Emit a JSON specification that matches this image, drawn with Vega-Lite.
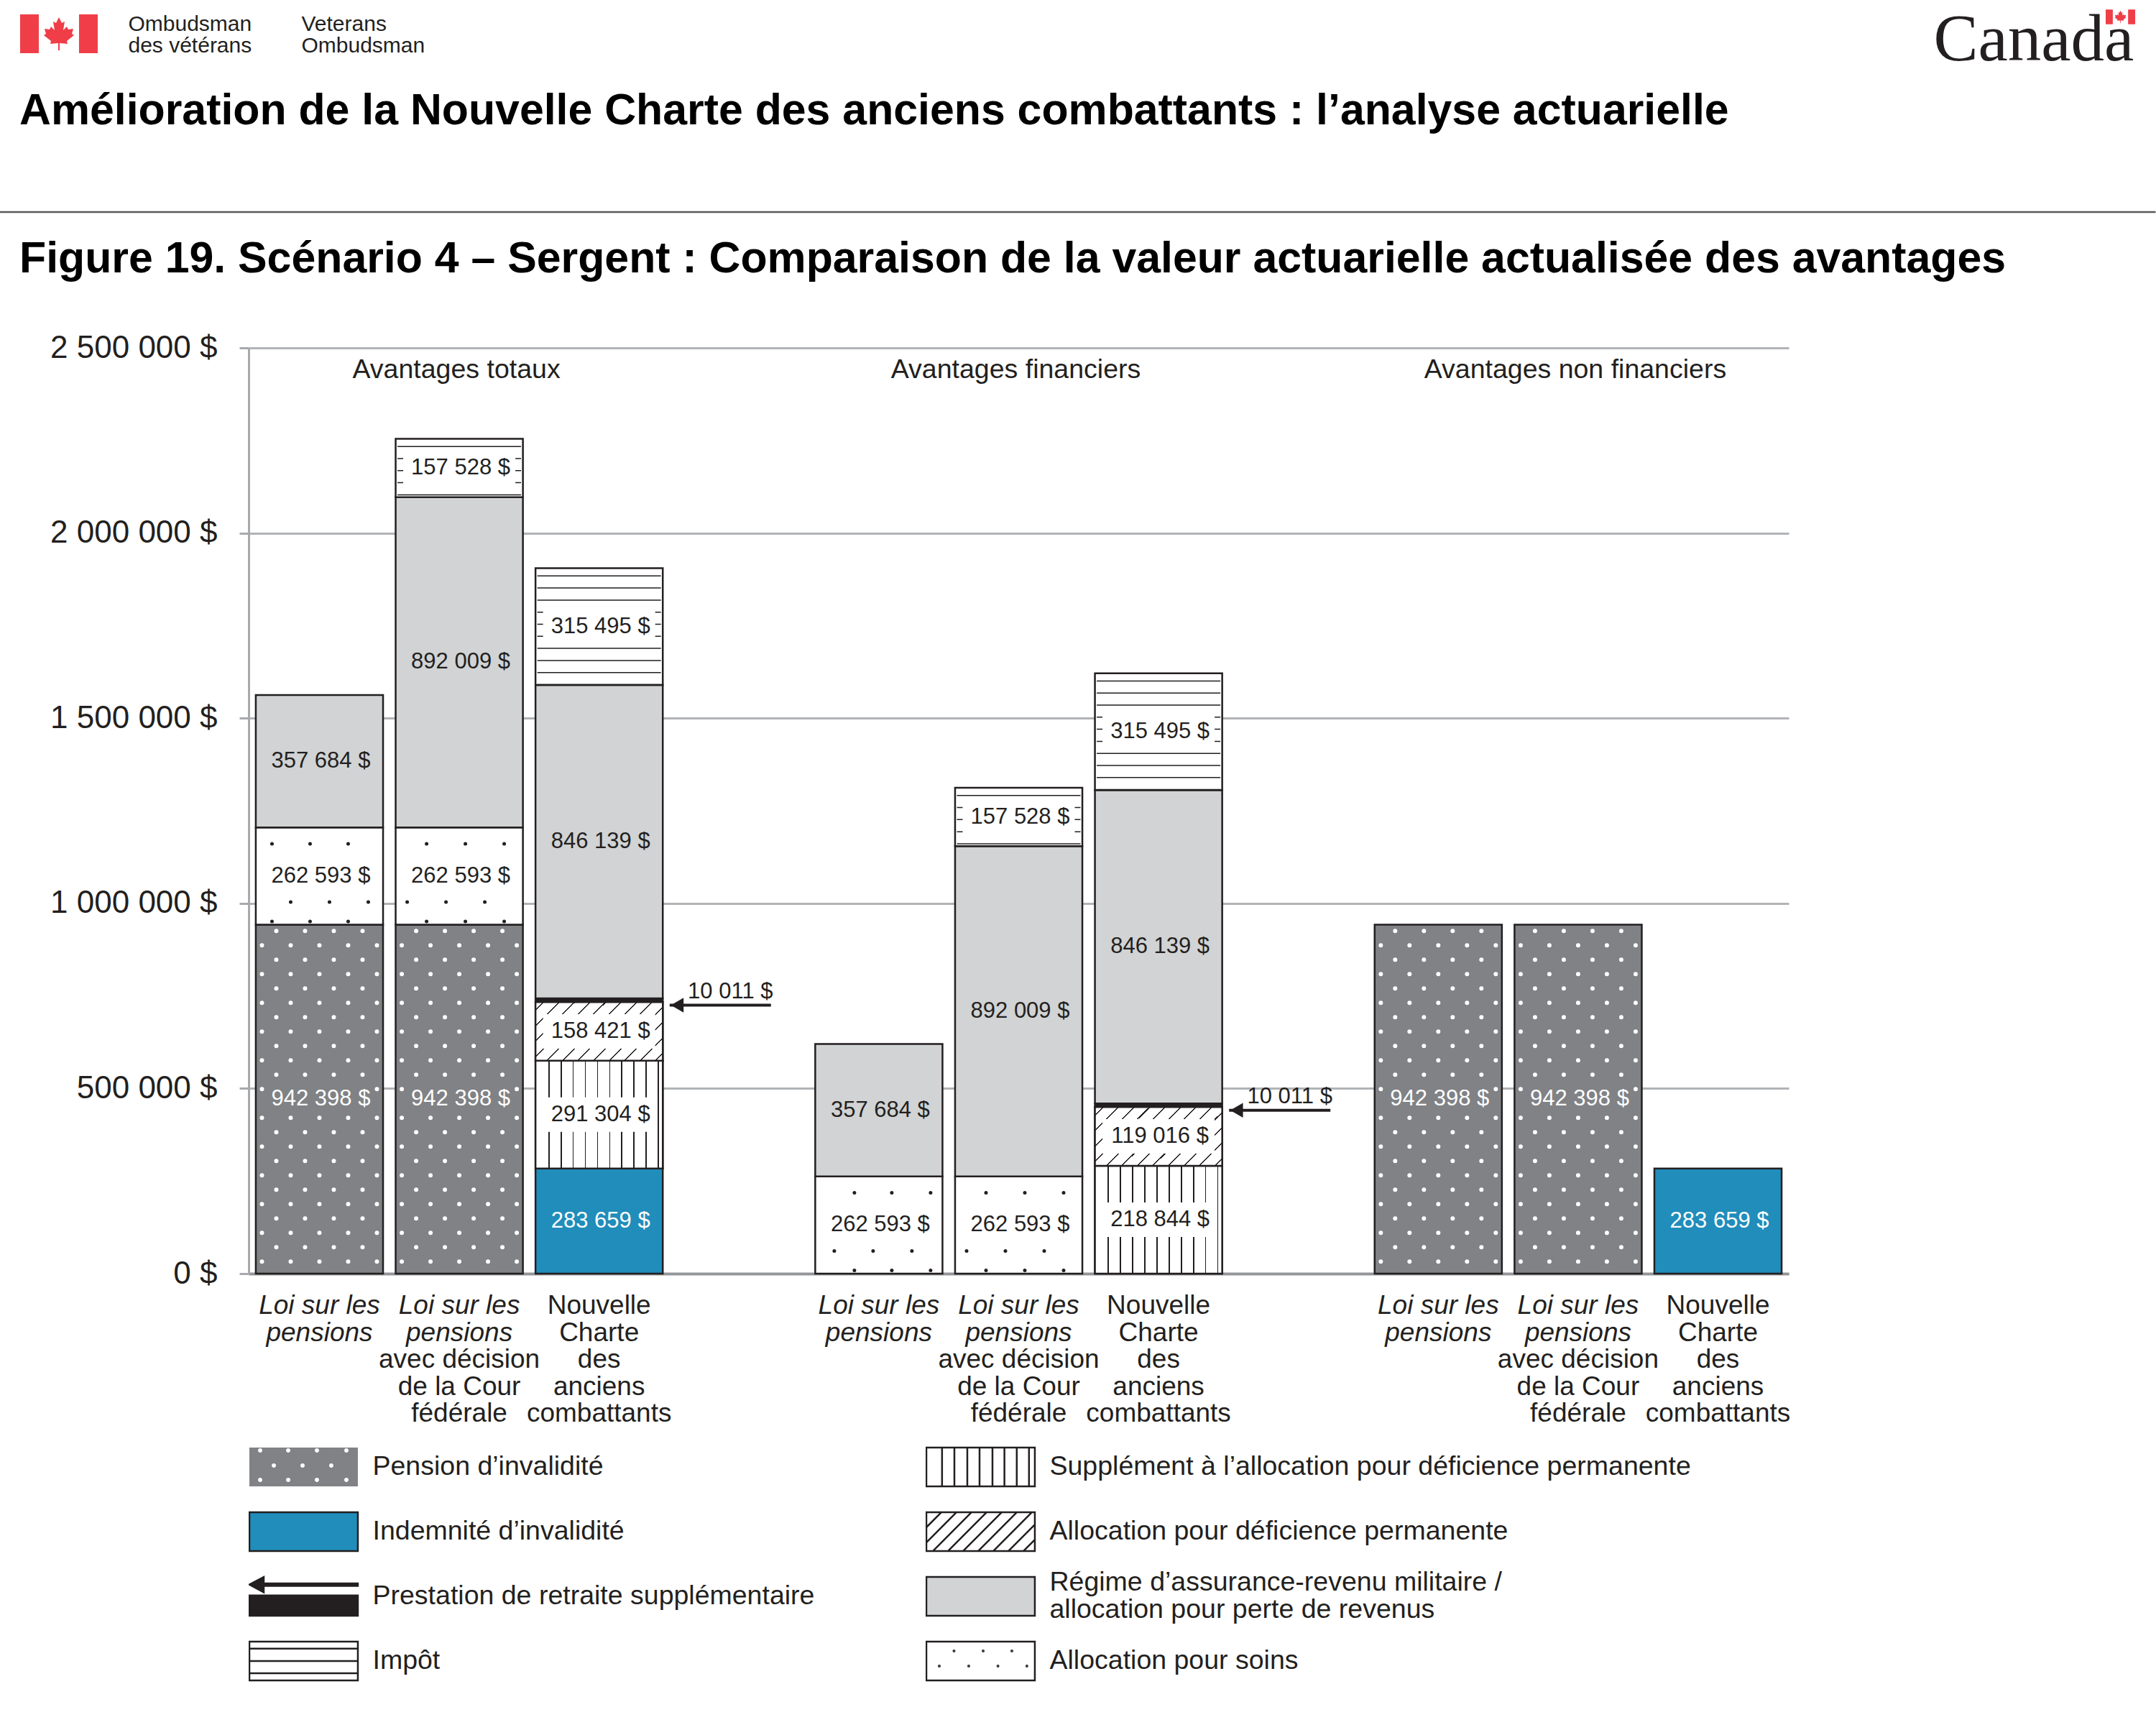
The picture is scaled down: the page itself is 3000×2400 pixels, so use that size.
{"$schema":"https://vega.github.io/schema/vega-lite/v6.json","autosize":{"type":"none"},"padding":{"left":346,"top":484,"right":511,"bottom":628},"width":2143,"height":1288,"background":"white","config":{"font":"Liberation Sans","view":{"stroke":null}},"title":{"text":"Amélioration de la Nouvelle Charte des anciens combattants : l’analyse actuarielle","subtitle":"Figure 19. Scénario 4 – Sergent : Comparaison de la valeur actuarielle actualisée des avantages","anchor":"start","frame":"group","dx":-319,"offset":-382,"subtitlePadding":145,"font":"Liberation Sans","fontWeight":"bold","fontSize":60.8,"color":"#000000","subtitleFont":"Liberation Sans","subtitleFontWeight":"bold","subtitleFontSize":60.8,"subtitleColor":"#000000"},"params":[{"name":"legendShapes","value":{"Pension d’invalidité":"M-1,-0.73H3.08V0.73H-1Z M-0.674,-0.62a0.08,0.08 0 1,0 0.16,0a0.08,0.08 0 1,0 -0.16,0Z M0.38,-0.62a0.08,0.08 0 1,0 0.16,0a0.08,0.08 0 1,0 -0.16,0Z M1.46,-0.62a0.08,0.08 0 1,0 0.16,0a0.08,0.08 0 1,0 -0.16,0Z M2.568,-0.62a0.08,0.08 0 1,0 0.16,0a0.08,0.08 0 1,0 -0.16,0Z M-0.16,-0.054a0.08,0.08 0 1,0 0.16,0a0.08,0.08 0 1,0 -0.16,0Z M0.92,-0.054a0.08,0.08 0 1,0 0.16,0a0.08,0.08 0 1,0 -0.16,0Z M2.0,-0.054a0.08,0.08 0 1,0 0.16,0a0.08,0.08 0 1,0 -0.16,0Z M-0.674,0.486a0.08,0.08 0 1,0 0.16,0a0.08,0.08 0 1,0 -0.16,0Z M0.38,0.486a0.08,0.08 0 1,0 0.16,0a0.08,0.08 0 1,0 -0.16,0Z M1.46,0.486a0.08,0.08 0 1,0 0.16,0a0.08,0.08 0 1,0 -0.16,0Z M2.568,0.486a0.08,0.08 0 1,0 0.16,0a0.08,0.08 0 1,0 -0.16,0Z","Indemnité d’invalidité":"M-1,-0.73H3.08V0.73H-1Z","Prestation de retraite supplémentaire":"M-1,-0.44L-0.46,-0.73L-0.46,-0.486L3.08,-0.486L3.08,-0.392L-0.46,-0.392L-0.46,-0.152Z M-1,-0.036L3.08,-0.036L3.08,0.73L-1,0.73Z","Impôt":"M-1,-0.73H3.08V0.73H-1Z M-1,-0.468H3.08 M-1,0H3.08 M-1,0.46H3.08","Supplément à l’allocation pour déficience permanente":"M-1,-0.73H3.08V0.73H-1Z M-0.41,-0.73V0.73 M0.054,-0.73V0.73 M0.54,-0.73V0.73 M1,-0.73V0.73 M1.486,-0.73V0.73 M1.936,-0.73V0.73 M2.4,-0.73V0.73 M2.86,-0.73V0.73","Allocation pour déficience permanente":"M-1,-0.73H3.08V0.73H-1Z M-1,-0.162L-0.432,-0.73 M-1,0.406L0.136,-0.73 M-0.756,0.73L0.702,-0.73 M-0.19,0.73L1.27,-0.73 M0.378,0.73L1.838,-0.73 M0.946,0.73L2.406,-0.73 M1.514,0.73L2.972,-0.73 M2.082,0.73L3.08,-0.27 M2.648,0.73L3.08,0.298","Régime d’assurance-revenu militaire / allocation pour perte de revenus":"M-1,-0.73H3.08V0.73H-1Z","Allocation pour soins":"M-1,-0.73H3.08V0.73H-1Z M0.02,-0.38a0.02,0.02 0 1,0 0.04,0a0.02,0.02 0 1,0 -0.04,0Z M1.116,-0.38a0.02,0.02 0 1,0 0.04,0a0.02,0.02 0 1,0 -0.04,0Z M2.196,-0.38a0.02,0.02 0 1,0 0.04,0a0.02,0.02 0 1,0 -0.04,0Z M-0.534,0.19a0.02,0.02 0 1,0 0.04,0a0.02,0.02 0 1,0 -0.04,0Z M0.574,0.19a0.02,0.02 0 1,0 0.04,0a0.02,0.02 0 1,0 -0.04,0Z M1.672,0.19a0.02,0.02 0 1,0 0.04,0a0.02,0.02 0 1,0 -0.04,0Z M2.76,0.19a0.02,0.02 0 1,0 0.04,0a0.02,0.02 0 1,0 -0.04,0Z"}}],"data":{"values":[{"bar":"a1","type":"Pension d’invalidité","value":942398,"label":"942 398 $","order":1},{"bar":"a1","type":"Allocation pour soins","value":262593,"label":"262 593 $","order":2},{"bar":"a1","type":"Régime d’assurance-revenu militaire / allocation pour perte de revenus","value":357684,"label":"357 684 $","order":6},{"bar":"a2","type":"Pension d’invalidité","value":942398,"label":"942 398 $","order":1},{"bar":"a2","type":"Allocation pour soins","value":262593,"label":"262 593 $","order":2},{"bar":"a2","type":"Régime d’assurance-revenu militaire / allocation pour perte de revenus","value":892009,"label":"892 009 $","order":6},{"bar":"a2","type":"Impôt","value":157528,"label":"157 528 $","order":7},{"bar":"a3","type":"Indemnité d’invalidité","value":283659,"label":"283 659 $","order":1},{"bar":"a3","type":"Supplément à l’allocation pour déficience permanente","value":291304,"label":"291 304 $","order":3},{"bar":"a3","type":"Allocation pour déficience permanente","value":158421,"label":"158 421 $","order":4},{"bar":"a3","type":"Prestation de retraite supplémentaire","value":10011,"label":"10 011 $","order":5,"side":"g1"},{"bar":"a3","type":"Régime d’assurance-revenu militaire / allocation pour perte de revenus","value":846139,"label":"846 139 $","order":6},{"bar":"a3","type":"Impôt","value":315495,"label":"315 495 $","order":7},{"bar":"b1","type":"Allocation pour soins","value":262593,"label":"262 593 $","order":2},{"bar":"b1","type":"Régime d’assurance-revenu militaire / allocation pour perte de revenus","value":357684,"label":"357 684 $","order":6},{"bar":"b2","type":"Allocation pour soins","value":262593,"label":"262 593 $","order":2},{"bar":"b2","type":"Régime d’assurance-revenu militaire / allocation pour perte de revenus","value":892009,"label":"892 009 $","order":6},{"bar":"b2","type":"Impôt","value":157528,"label":"157 528 $","order":7},{"bar":"b3","type":"Supplément à l’allocation pour déficience permanente","value":291304,"label":"218 844 $","order":3},{"bar":"b3","type":"Allocation pour déficience permanente","value":158421,"label":"119 016 $","order":4},{"bar":"b3","type":"Prestation de retraite supplémentaire","value":10011,"label":"10 011 $","order":5,"side":"g2"},{"bar":"b3","type":"Régime d’assurance-revenu militaire / allocation pour perte de revenus","value":846139,"label":"846 139 $","order":6},{"bar":"b3","type":"Impôt","value":315495,"label":"315 495 $","order":7},{"bar":"c1","type":"Pension d’invalidité","value":942398,"label":"942 398 $","order":1},{"bar":"c2","type":"Pension d’invalidité","value":942398,"label":"942 398 $","order":1},{"bar":"c3","type":"Indemnité d’invalidité","value":283659,"label":"283 659 $","order":1}]},"transform":[{"stack":"value","groupby":["bar"],"sort":[{"field":"order","order":"ascending"}],"as":["v0","v1"]},{"calculate":"(datum.v0+datum.v1)/2","as":"mid"}],"encoding":{"x":{"field":"bar","type":"nominal","sort":null,"title":null,"scale":{"type":"band","domain":["a1","a2","a3","g1","b1","b2","b3","g2","c1","c2","c3"],"paddingInner":0.09,"paddingOuter":0.051},"axis":{"labels":false,"ticks":false,"title":null,"domainColor":"#939598","domainWidth":4,"grid":false}}},"layer":[{"mark":{"type":"bar","stroke":"#231f20","strokeWidth":2.5},"encoding":{"y":{"field":"v0","type":"quantitative","title":null,"scale":{"domain":[0,2500000],"nice":false},"axis":{"values":[0,500000,1000000,1500000,2000000,2500000],"labelExpr":"replace(format(datum.value,',d'),/,/g,' ')+' $'","labelFontSize":44,"labelLimit":500,"labelColor":"#231f20","labelPadding":31,"tickSize":13,"tickColor":"#a7a9ac","tickWidth":3,"domainColor":"#a7a9ac","domainWidth":3,"grid":true,"gridColor":"#b1b3b6","gridWidth":3,"title":null}},"y2":{"field":"v1"},"fill":{"field":"type","type":"nominal","scale":{"domain":["Pension d’invalidité","Indemnité d’invalidité","Prestation de retraite supplémentaire","Impôt","Supplément à l’allocation pour déficience permanente","Allocation pour déficience permanente","Régime d’assurance-revenu militaire / allocation pour perte de revenus","Allocation pour soins"],"range":["#808285","#218dbb","#231f20","#ffffff","#ffffff","#ffffff","#d1d3d4","#ffffff"]},"legend":{"orient":"none","legendX":0,"legendY":1519,"title":null,"direction":"vertical","columns":2,"columnPadding":154,"rowPadding":14,"padding":0,"clipHeight":76,"symbolSize":5476,"symbolType":"M-1,-0.73H3.08V0.73H-1Z","labelOffset":135,"labelFontSize":37.5,"labelColor":"#231f20","labelLimit":1400,"labelExpr":"indexof(datum.label,'/')>0 ? ['Régime d’assurance-revenu militaire /','allocation pour perte de revenus'] : datum.label","encoding":{"symbols":{"shape":{"value":{"expr":"legendShapes[datum.value]"}},"x":{"value":38},"stroke":{"value":"#231f20"},"strokeWidth":{"value":{"expr":"datum.value==='Pension d’invalidité'?0:2.5"}}},"labels":{"lineHeight":{"value":38},"dy":{"value":{"expr":"indexof(datum.label,'/')>0?-19:0"}}}}}}}},{"transform":[{"filter":"datum.type==='Supplément à l’allocation pour déficience permanente'"}],"mark":{"type":"bar","stroke":"#231f20","strokeWidth":2.5,"fill":{"gradient":"linear","x1":0,"y1":0,"x2":1,"y2":0,"stops":[{"offset":0,"color":"#fff"},{"offset":0.101,"color":"#fff"},{"offset":0.101,"color":"#231f20"},{"offset":0.11,"color":"#231f20"},{"offset":0.11,"color":"#fff"},{"offset":0.197,"color":"#fff"},{"offset":0.197,"color":"#231f20"},{"offset":0.206,"color":"#231f20"},{"offset":0.206,"color":"#fff"},{"offset":0.292,"color":"#fff"},{"offset":0.292,"color":"#231f20"},{"offset":0.301,"color":"#231f20"},{"offset":0.301,"color":"#fff"},{"offset":0.388,"color":"#fff"},{"offset":0.388,"color":"#231f20"},{"offset":0.397,"color":"#231f20"},{"offset":0.397,"color":"#fff"},{"offset":0.483,"color":"#fff"},{"offset":0.483,"color":"#231f20"},{"offset":0.492,"color":"#231f20"},{"offset":0.492,"color":"#fff"},{"offset":0.579,"color":"#fff"},{"offset":0.579,"color":"#231f20"},{"offset":0.588,"color":"#231f20"},{"offset":0.588,"color":"#fff"},{"offset":0.674,"color":"#fff"},{"offset":0.674,"color":"#231f20"},{"offset":0.683,"color":"#231f20"},{"offset":0.683,"color":"#fff"},{"offset":0.77,"color":"#fff"},{"offset":0.77,"color":"#231f20"},{"offset":0.779,"color":"#231f20"},{"offset":0.779,"color":"#fff"},{"offset":0.865,"color":"#fff"},{"offset":0.865,"color":"#231f20"},{"offset":0.874,"color":"#231f20"},{"offset":0.874,"color":"#fff"},{"offset":0.961,"color":"#fff"},{"offset":0.961,"color":"#231f20"},{"offset":0.97,"color":"#231f20"},{"offset":0.97,"color":"#fff"},{"offset":1,"color":"#fff"}]}},"encoding":{"y":{"field":"v0","type":"quantitative"},"y2":{"field":"v1"}}},{"transform":[{"filter":"datum.type==='Allocation pour déficience permanente'"}],"mark":{"type":"bar","stroke":"#231f20","strokeWidth":2.5,"fill":{"gradient":"linear","x1":0,"y1":0,"x2":1.2047,"y2":0.5581,"stops":[{"offset":0,"color":"#fff"},{"offset":0.04,"color":"#fff"},{"offset":0.04,"color":"#231f20"},{"offset":0.048,"color":"#231f20"},{"offset":0.048,"color":"#fff"},{"offset":0.123,"color":"#fff"},{"offset":0.123,"color":"#231f20"},{"offset":0.131,"color":"#231f20"},{"offset":0.131,"color":"#fff"},{"offset":0.207,"color":"#fff"},{"offset":0.207,"color":"#231f20"},{"offset":0.215,"color":"#231f20"},{"offset":0.215,"color":"#fff"},{"offset":0.29,"color":"#fff"},{"offset":0.29,"color":"#231f20"},{"offset":0.298,"color":"#231f20"},{"offset":0.298,"color":"#fff"},{"offset":0.373,"color":"#fff"},{"offset":0.373,"color":"#231f20"},{"offset":0.381,"color":"#231f20"},{"offset":0.381,"color":"#fff"},{"offset":0.457,"color":"#fff"},{"offset":0.457,"color":"#231f20"},{"offset":0.465,"color":"#231f20"},{"offset":0.465,"color":"#fff"},{"offset":0.54,"color":"#fff"},{"offset":0.54,"color":"#231f20"},{"offset":0.548,"color":"#231f20"},{"offset":0.548,"color":"#fff"},{"offset":0.623,"color":"#fff"},{"offset":0.623,"color":"#231f20"},{"offset":0.631,"color":"#231f20"},{"offset":0.631,"color":"#fff"},{"offset":0.707,"color":"#fff"},{"offset":0.707,"color":"#231f20"},{"offset":0.715,"color":"#231f20"},{"offset":0.715,"color":"#fff"},{"offset":0.79,"color":"#fff"},{"offset":0.79,"color":"#231f20"},{"offset":0.798,"color":"#231f20"},{"offset":0.798,"color":"#fff"},{"offset":0.873,"color":"#fff"},{"offset":0.873,"color":"#231f20"},{"offset":0.881,"color":"#231f20"},{"offset":0.881,"color":"#fff"},{"offset":0.957,"color":"#fff"},{"offset":0.957,"color":"#231f20"},{"offset":0.965,"color":"#231f20"},{"offset":0.965,"color":"#fff"},{"offset":1,"color":"#fff"}]}},"encoding":{"y":{"field":"v0","type":"quantitative"},"y2":{"field":"v1"}}},{"transform":[{"filter":"datum.type==='Impôt'"}],"mark":{"type":"rule","strokeWidth":172,"strokeDash":[1.5,15.3],"strokeDashOffset":6.8,"color":"#231f20"},"encoding":{"y":{"field":"v1","type":"quantitative"},"y2":{"field":"v0"}}},{"data":{"name":"dots","values":[{"bar":"a1","col":-4,"from":32400,"to":942398},{"bar":"a1","col":-3,"from":71200,"to":942398},{"bar":"a1","col":-2,"from":32400,"to":942398},{"bar":"a1","col":-1,"from":71200,"to":942398},{"bar":"a1","col":0,"from":32400,"to":942398},{"bar":"a1","col":1,"from":71200,"to":942398},{"bar":"a1","col":2,"from":32400,"to":942398},{"bar":"a1","col":3,"from":71200,"to":942398},{"bar":"a1","col":4,"from":32400,"to":942398},{"bar":"a2","col":-4,"from":32400,"to":942398},{"bar":"a2","col":-3,"from":71200,"to":942398},{"bar":"a2","col":-2,"from":32400,"to":942398},{"bar":"a2","col":-1,"from":71200,"to":942398},{"bar":"a2","col":0,"from":32400,"to":942398},{"bar":"a2","col":1,"from":71200,"to":942398},{"bar":"a2","col":2,"from":32400,"to":942398},{"bar":"a2","col":3,"from":71200,"to":942398},{"bar":"a2","col":4,"from":32400,"to":942398},{"bar":"c1","col":-4,"from":32400,"to":942398},{"bar":"c1","col":-3,"from":71200,"to":942398},{"bar":"c1","col":-2,"from":32400,"to":942398},{"bar":"c1","col":-1,"from":71200,"to":942398},{"bar":"c1","col":0,"from":32400,"to":942398},{"bar":"c1","col":1,"from":71200,"to":942398},{"bar":"c1","col":2,"from":32400,"to":942398},{"bar":"c1","col":3,"from":71200,"to":942398},{"bar":"c1","col":4,"from":32400,"to":942398},{"bar":"c2","col":-4,"from":32400,"to":942398},{"bar":"c2","col":-3,"from":71200,"to":942398},{"bar":"c2","col":-2,"from":32400,"to":942398},{"bar":"c2","col":-1,"from":71200,"to":942398},{"bar":"c2","col":0,"from":32400,"to":942398},{"bar":"c2","col":1,"from":71200,"to":942398},{"bar":"c2","col":2,"from":32400,"to":942398},{"bar":"c2","col":3,"from":71200,"to":942398},{"bar":"c2","col":4,"from":32400,"to":942398}]},"mark":{"type":"rule","strokeWidth":6,"strokeCap":"round","strokeDash":[0.01,39.99],"color":"#ffffff","xOffset":{"expr":"datum.col*20"}},"encoding":{"y":{"field":"from","type":"quantitative"},"y2":{"field":"to"}}},{"data":{"name":"dotsSoins","values":[{"bar":"a1","col":-3.3,"from":951100,"to":1204991},{"bar":"a1","col":-0.65,"from":951100,"to":1204991},{"bar":"a1","col":2,"from":951100,"to":1204991},{"bar":"a1","col":-2,"from":1003500,"to":1204991},{"bar":"a1","col":0.7,"from":1003500,"to":1204991},{"bar":"a1","col":3.4,"from":1003500,"to":1204991},{"bar":"a2","col":-2.275,"from":951100,"to":1204991},{"bar":"a2","col":0.425,"from":951100,"to":1204991},{"bar":"a2","col":3.125,"from":951100,"to":1204991},{"bar":"a2","col":-3.625,"from":1003500,"to":1204991},{"bar":"a2","col":-0.925,"from":1003500,"to":1204991},{"bar":"a2","col":1.775,"from":1003500,"to":1204991},{"bar":"b1","col":-1.7,"from":8700,"to":262593},{"bar":"b1","col":0.9,"from":8700,"to":262593},{"bar":"b1","col":3.6,"from":8700,"to":262593},{"bar":"b1","col":-3.1,"from":61100,"to":262593},{"bar":"b1","col":-0.4,"from":61100,"to":262593},{"bar":"b1","col":2.3,"from":61100,"to":262593},{"bar":"b2","col":-2.275,"from":8700,"to":262593},{"bar":"b2","col":0.425,"from":8700,"to":262593},{"bar":"b2","col":3.125,"from":8700,"to":262593},{"bar":"b2","col":-3.625,"from":61100,"to":262593},{"bar":"b2","col":-0.925,"from":61100,"to":262593},{"bar":"b2","col":1.775,"from":61100,"to":262593}]},"mark":{"type":"rule","strokeWidth":5,"strokeCap":"round","strokeDash":[0.01,53.99],"color":"#231f20","xOffset":{"expr":"datum.col*20"}},"encoding":{"y":{"field":"from","type":"quantitative"},"y2":{"field":"to"}}},{"transform":[{"filter":"datum.type==='Pension d’invalidité'"}],"mark":{"type":"point","shape":"M-72,-21H72V21H-72Z","size":4,"filled":true,"fill":"#808285","stroke":null,"opacity":1},"encoding":{"y":{"field":"mid","type":"quantitative"}}},{"transform":[{"filter":"indexof(['Allocation pour soins','Impôt','Supplément à l’allocation pour déficience permanente','Allocation pour déficience permanente'],datum.type)>=0"}],"mark":{"type":"point","shape":"M-78,-24H78V24H-78Z","size":4,"filled":true,"fill":"#ffffff","stroke":null,"opacity":1},"encoding":{"y":{"field":"mid","type":"quantitative"}}},{"transform":[{"filter":"datum.type!=='Prestation de retraite supplémentaire' && datum.type!=='Pension d’invalidité' && datum.type!=='Indemnité d’invalidité'"}],"mark":{"type":"text","fontSize":31,"color":"#231f20","baseline":"middle","dx":2},"encoding":{"y":{"field":"mid","type":"quantitative"},"text":{"field":"label","type":"nominal"}}},{"transform":[{"filter":"datum.type==='Pension d’invalidité' || datum.type==='Indemnité d’invalidité'"}],"mark":{"type":"text","fontSize":31,"color":"#ffffff","baseline":"middle","dx":2},"encoding":{"y":{"field":"mid","type":"quantitative"},"text":{"field":"label","type":"nominal"}}},{"transform":[{"filter":"datum.type==='Prestation de retraite supplémentaire'"}],"mark":{"type":"tick","orient":"horizontal","size":141,"thickness":4,"xOffset":-26,"yOffset":7,"color":"#231f20","opacity":1},"encoding":{"x":{"field":"side","type":"nominal"},"y":{"field":"mid","type":"quantitative"}}},{"transform":[{"filter":"datum.type==='Prestation de retraite supplémentaire'"}],"mark":{"type":"point","shape":"triangle-left","size":420,"filled":true,"xOffset":-86,"yOffset":7,"color":"#231f20","opacity":1},"encoding":{"x":{"field":"side","type":"nominal"},"y":{"field":"mid","type":"quantitative"}}},{"transform":[{"filter":"datum.type==='Prestation de retraite supplémentaire'"}],"mark":{"type":"text","fontSize":31,"color":"#231f20","baseline":"middle","dx":-12,"dy":-12},"encoding":{"x":{"field":"side","type":"nominal"},"y":{"field":"mid","type":"quantitative"},"text":{"field":"label","type":"nominal"}}},{"data":{"name":"groups","values":[{"bar":"a2","group":"Avantages totaux"},{"bar":"b2","group":"Avantages financiers"},{"bar":"c2","group":"Avantages non financiers"}]},"mark":{"type":"text","fontSize":37.5,"color":"#231f20","baseline":"middle","dx":-4},"encoding":{"y":{"datum":2440000,"type":"quantitative"},"text":{"field":"group","type":"nominal"}}},{"data":{"name":"cats","values":[{"bar":"a1","line":0,"txt":"Loi sur les","it":1},{"bar":"a1","line":1,"txt":"pensions","it":1},{"bar":"a2","line":0,"txt":"Loi sur les","it":1},{"bar":"a2","line":1,"txt":"pensions","it":1},{"bar":"a2","line":2,"txt":"avec décision","it":0},{"bar":"a2","line":3,"txt":"de la Cour","it":0},{"bar":"a2","line":4,"txt":"fédérale","it":0},{"bar":"a3","line":0,"txt":"Nouvelle","it":0},{"bar":"a3","line":1,"txt":"Charte","it":0},{"bar":"a3","line":2,"txt":"des","it":0},{"bar":"a3","line":3,"txt":"anciens","it":0},{"bar":"a3","line":4,"txt":"combattants","it":0},{"bar":"b1","line":0,"txt":"Loi sur les","it":1},{"bar":"b1","line":1,"txt":"pensions","it":1},{"bar":"b2","line":0,"txt":"Loi sur les","it":1},{"bar":"b2","line":1,"txt":"pensions","it":1},{"bar":"b2","line":2,"txt":"avec décision","it":0},{"bar":"b2","line":3,"txt":"de la Cour","it":0},{"bar":"b2","line":4,"txt":"fédérale","it":0},{"bar":"b3","line":0,"txt":"Nouvelle","it":0},{"bar":"b3","line":1,"txt":"Charte","it":0},{"bar":"b3","line":2,"txt":"des","it":0},{"bar":"b3","line":3,"txt":"anciens","it":0},{"bar":"b3","line":4,"txt":"combattants","it":0},{"bar":"c1","line":0,"txt":"Loi sur les","it":1},{"bar":"c1","line":1,"txt":"pensions","it":1},{"bar":"c2","line":0,"txt":"Loi sur les","it":1},{"bar":"c2","line":1,"txt":"pensions","it":1},{"bar":"c2","line":2,"txt":"avec décision","it":0},{"bar":"c2","line":3,"txt":"de la Cour","it":0},{"bar":"c2","line":4,"txt":"fédérale","it":0},{"bar":"c3","line":0,"txt":"Nouvelle","it":0},{"bar":"c3","line":1,"txt":"Charte","it":0},{"bar":"c3","line":2,"txt":"des","it":0},{"bar":"c3","line":3,"txt":"anciens","it":0},{"bar":"c3","line":4,"txt":"combattants","it":0}]},"mark":{"type":"text","fontSize":37,"color":"#231f20","baseline":"middle","fontStyle":{"expr":"datum.it?'italic':'normal'"}},"encoding":{"y":{"datum":0,"type":"quantitative"},"yOffset":{"field":"line","type":"quantitative","scale":{"domain":[0,4],"range":[45,195]}},"text":{"field":"txt","type":"nominal"}}},{"data":{"name":"logoFr","values":[{"bar":"a1"}]},"mark":{"type":"text","text":["Ombudsman","des vétérans"],"fontSize":30,"lineHeight":30,"align":"left","baseline":"middle","dx":-266,"color":"#231f20"},"encoding":{"y":{"datum":3374225,"type":"quantitative"}}},{"data":{"name":"logoEn","values":[{"bar":"a1"}]},"mark":{"type":"text","text":["Veterans","Ombudsman"],"fontSize":30,"lineHeight":30,"align":"left","baseline":"middle","dx":-25,"color":"#231f20"},"encoding":{"y":{"datum":3374225,"type":"quantitative"}}},{"data":{"name":"wordmark","values":[{"bar":"c3"}]},"mark":{"type":"text","text":"Canada","font":"Liberation Serif","fontSize":93,"align":"left","baseline":"alphabetic","dx":300,"color":"#231f20"},"encoding":{"y":{"datum":3276408,"type":"quantitative"}}},{"data":{"name":"flagMain","values":[{"bar":"a1"}]},"mark":{"type":"point","shape":"M-54,-27H-28V27H-54Z M28,-27H54V27H28Z M0,-23L4,-15L8,-17L6,-5L11,-10L13,-6L20,-7L18,0L21,2L11,10L12,14L1,13L1,23L-1,23L-1,13L-12,14L-11,10L-21,2L-18,0L-20,-7L-13,-6L-11,-10L-6,-5L-8,-17L-4,-15Z","size":4,"filled":true,"xOffset":-362.5,"color":"#ef3e48","opacity":1},"encoding":{"y":{"datum":3348225,"type":"quantitative"}}},{"data":{"name":"flagSmall","values":[{"bar":"c3"}]},"mark":{"type":"point","shape":"M-54,-27H-28V27H-54Z M28,-27H54V27H28Z M0,-23L4,-15L8,-17L6,-5L11,-10L13,-6L20,-7L18,0L21,2L11,10L12,14L1,13L1,23L-1,23L-1,13L-12,14L-11,10L-21,2L-18,0L-20,-7L-13,-6L-11,-10L-6,-5L-8,-17L-4,-15Z","size":0.5776,"filled":true,"xOffset":560,"color":"#ef3e48","opacity":1},"encoding":{"y":{"datum":3393839,"type":"quantitative"}}},{"data":{"name":"headerRule","values":[{"bar":"b2"}]},"mark":{"type":"tick","orient":"horizontal","size":3000,"thickness":2.5,"xOffset":82,"color":"#58595b","opacity":1},"encoding":{"y":{"datum":2866857,"type":"quantitative"}}}]}
